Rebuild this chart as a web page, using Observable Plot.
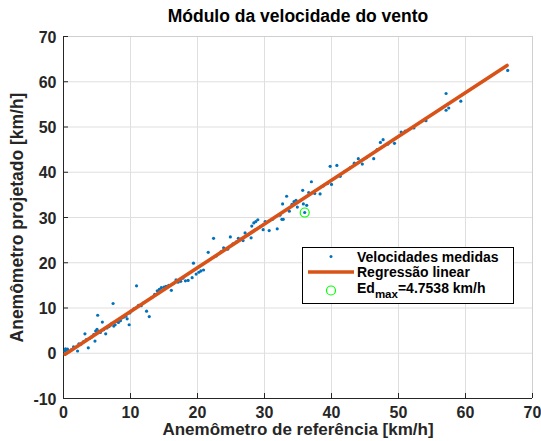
<!DOCTYPE html>
<html><head><meta charset="utf-8">
<script src="https://cdn.jsdelivr.net/npm/d3@7"></script>
<script src="https://cdn.jsdelivr.net/npm/@observablehq/plot@0.6"></script>
<style>
body{margin:0;background:#fff;}
#wrap{position:relative;width:541px;height:441px;background:#fff;}
#legend{position:absolute;left:302px;top:247px;}
</style></head><body><div id="wrap"></div>
<script>
const refSpeed = [0.2,0.3,0.4,0.6,0.8,1.2,1.5,2.1,2.3,2.6,3.0,3.2,3.4,3.7,3.9,4.2,4.5,4.7,4.8,5.0,5.1,5.2,5.5,5.8,6.0,6.3,6.5,6.8,7.0,7.2,7.4,7.5,7.7,8.0,8.2,8.5,8.7,9.0,9.3,9.5,9.8,9.9,10.2,10.5,10.9,11.2,11.6,12.0,12.4,12.8,13.2,13.6,14.0,14.3,14.6,15.0,15.3,15.7,16.1,16.4,16.8,17.1,17.5,17.8,18.2,18.6,19.2,19.4,19.8,20.2,20.5,20.9,21.6,22.4,22.8,23.5,23.9,24.5,24.9,25.3,25.8,26.1,26.5,26.8,27.1,27.6,28.0,28.1,28.4,28.7,29.0,29.4,29.8,30.1,30.7,31.2,31.9,32.3,32.6,32.8,32.7,33.3,33.7,34.1,34.4,34.7,34.9,35.7,35.8,36.0,36.3,36.6,37.0,37.5,38.3,38.8,39.4,39.8,40.0,40.8,41.3,42.0,42.8,43.4,44.0,44.6,45.2,46.3,46.8,47.3,47.7,48.4,49.4,50.4,51.0,52.3,54.1,57.1,57.5,57.1,59.3,66.3];
const projSpeed = [0.5,1.0,0.7,0.9,0.4,0.8,1.4,0.5,2.1,2.0,2.6,4.3,3.0,1.2,3.3,3.6,4.1,2.7,4.9,5.3,8.4,4.8,4.6,6.9,5.2,4.3,5.6,5.9,6.2,6.6,11.0,6.0,6.3,7.0,6.8,7.2,7.8,8.0,8.2,7.6,6.3,8.9,9.4,9.8,14.9,10.6,10.5,11.2,9.3,8.1,12.3,13.0,13.8,14.1,14.5,14.6,14.8,15.0,13.9,15.4,16.2,15.7,15.9,16.6,16.0,16.1,16.7,19.9,17.5,17.9,18.2,18.4,22.3,25.4,21.5,22.4,23.3,23.0,25.7,24.2,24.6,25.4,25.2,24.9,26.6,26.2,25.5,28.1,28.8,29.1,29.5,28.0,27.3,29.1,27.1,29.6,27.5,30.5,29.6,29.6,33.0,34.7,31.4,32.9,33.5,33.8,32.3,36.0,33.0,31.1,32.7,35.5,37.9,35.3,35.2,37.0,37.5,41.3,37.3,41.5,39.1,40.2,41.0,42.0,43.0,41.8,43.2,43.0,45.0,46.6,47.2,46.2,46.4,48.9,49.1,49.8,51.4,53.7,54.2,57.4,55.7,62.5];
const regressionX = [0.25, 66.2];
const regressionY = [-0.2, 63.6];
const maxErrorX = [36.0];
const maxErrorY = [31.1];
const xTicks = [0,10,20,30,40,50,60,70];
const yTicks = [-10,0,10,20,30,40,50,60,70];
const titleText = "Módulo da velocidade do vento";
const xLabel = "Anemômetro de referência [km/h]";
const yLabel = "Anemômetro projetado [km/h]";
const legendLabels = ["Velocidades medidas", "Regressão linear", "Ed", "max", "=4.7538 km/h"];

const points = refSpeed.map((x, i) => ({x, y: projSpeed[i]}));
const reg = regressionX.map((x, i) => ({x, y: regressionY[i]}));
const maxErr = maxErrorX.map((x, i) => ({x, y: maxErrorY[i]}));

const W = 541, H = 441, mL = 63, mR = 9, mT = 36, mB = 43;
const fw = W - mL - mR, fh = H - mT - mB;
const font = '"Liberation Sans", Arial, Helvetica, sans-serif';
const dark = "#262626";

const plot = Plot.plot({
  width: W, height: H,
  marginLeft: mL, marginRight: mR, marginTop: mT, marginBottom: mB,
  x: {domain: [0, 70], axis: null},
  y: {domain: [-10, 70], axis: null},
  style: {fontFamily: font, fontWeight: "bold", background: "#fff", color: dark},
  marks: [
    Plot.gridX(xTicks, {stroke: "#dfdfdf", strokeOpacity: 1}),
    Plot.gridY(yTicks, {stroke: "#dfdfdf", strokeOpacity: 1}),
    Plot.ruleY([70], {stroke: "#cfcfcf"}),
    Plot.ruleX([70], {stroke: "#cfcfcf"}),
    Plot.ruleY([-10], {stroke: dark}),
    Plot.ruleX([0], {stroke: dark}),
    Plot.tickX(xTicks, {x: d => d, stroke: dark, insetTop: fh - 5}),
    Plot.tickY(yTicks, {y: d => d, stroke: dark, insetRight: fw - 5}),
    Plot.text(xTicks, {x: d => d, frameAnchor: "bottom", textAnchor: "middle", lineAnchor: "top", dy: 8, fontSize: 16, fontWeight: "bold", fill: dark, text: d => String(d)}),
    Plot.text(yTicks, {y: d => d, frameAnchor: "left", textAnchor: "end", dx: -7, dy: 1, fontSize: 16, fontWeight: "bold", fill: dark, text: d => String(d)}),
    Plot.dot(points, {x: "x", y: "y", r: 1.6, fill: "#0072BD", stroke: null}),
    Plot.line(reg, {x: "x", y: "y", stroke: "#D95319", strokeWidth: 3.6}),
    Plot.dot(maxErr, {x: "x", y: "y", r: 4.5, stroke: "#00FF00", fill: "none", strokeWidth: 1.2}),
    Plot.text([titleText], {frameAnchor: "top", textAnchor: "middle", dy: -27, fontSize: 17.5, fontWeight: "bold", fill: "#000", text: d => d}),
    Plot.text([xLabel], {frameAnchor: "bottom", textAnchor: "middle", dy: 36, fontSize: 17, fontWeight: "bold", fill: dark, text: d => d}),
    Plot.text([yLabel], {frameAnchor: "left", textAnchor: "middle", dx: -46, rotate: -90, fontSize: 17.5, fontWeight: "bold", fill: dark, text: d => d})
  ]
});
const wrap = document.getElementById("wrap");
wrap.appendChild(plot);

// legend
const lg = d3.select(wrap).append("svg").attr("id", "legend")
  .attr("width", 212).attr("height", 57)
  .style("font-family", font).style("font-weight", "bold");
lg.append("rect").attr("x", 0.5).attr("y", 0.5).attr("width", 211).attr("height", 56)
  .attr("fill", "#fff").attr("stroke", "#000").attr("stroke-width", 1);
lg.append("circle").attr("cx", 29).attr("cy", 9.5).attr("r", 1.5).attr("fill", "#0072BD");
lg.append("line").attr("x1", 6).attr("x2", 52).attr("y1", 25).attr("y2", 25)
  .attr("stroke", "#D95319").attr("stroke-width", 3.6);
lg.append("circle").attr("cx", 29).attr("cy", 43.5).attr("r", 4.5)
  .attr("fill", "none").attr("stroke", "#00FF00").attr("stroke-width", 1.2);
const tx = 55, fs = 14;
lg.append("text").attr("x", tx).attr("y", 14.5).attr("font-size", fs).attr("fill", "#000").text(legendLabels[0]);
lg.append("text").attr("x", tx).attr("y", 30.2).attr("font-size", fs).attr("fill", "#000").text(legendLabels[1]);
const t3 = lg.append("text").attr("x", tx).attr("y", 45.6).attr("font-size", fs).attr("fill", "#000");
t3.append("tspan").text(legendLabels[2]);
t3.append("tspan").attr("dy", 5).attr("font-size", 11.5).text(legendLabels[3]);
t3.append("tspan").attr("dy", -5).text(legendLabels[4]);
</script></body></html>
